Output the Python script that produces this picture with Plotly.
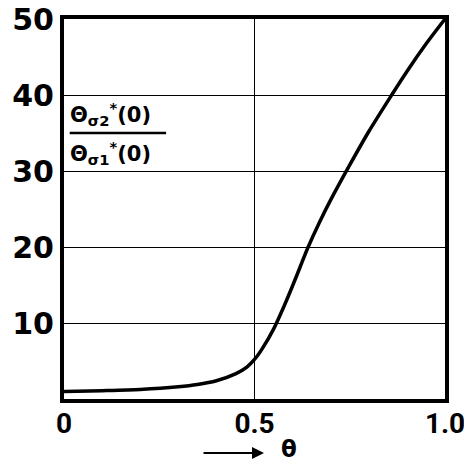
import plotly.graph_objects as go

theta = [0.0, 0.1, 0.2, 0.3, 0.35, 0.4, 0.45, 0.48, 0.5, 0.52, 0.55, 0.58, 0.6, 0.62, 0.64, 0.67, 0.7, 0.75, 0.8, 0.86, 0.9, 0.95, 1.0]
ratio = [1.0, 1.1, 1.25, 1.6, 1.9, 2.4, 3.3, 4.2, 5.2, 6.6, 9.2, 12.5, 14.9, 17.4, 19.9, 23.2, 26.2, 30.8, 35.2, 40.0, 43.1, 46.7, 50.0]

x_ticks = [0, 0.5, 1.0]
x_tick_text = ["0", "0.5", "1.0"]
y_ticks = [10, 20, 30, 40, 50]
y_tick_text = ["10", "20", "30", "40", "50"]

fig = go.Figure()
fig.add_trace(go.Scatter(x=theta, y=ratio, mode="lines",
                         line=dict(color="black", width=3.5, shape="spline", smoothing=0.8),
                         hoverinfo="skip", showlegend=False))

font = "DejaVu Sans"
xfont = "Roboto"
fig.update_layout(
    width=464, height=465,
    margin=dict(l=64, r=19, t=19, b=66),
    paper_bgcolor="white", plot_bgcolor="white",
    font=dict(family=font, color="black"),
    showlegend=False,
    xaxis=dict(range=[0, 1.0], tickvals=x_ticks, ticktext=[f"<b>{t}</b>" for t in x_tick_text],
               showline=True, linewidth=4, linecolor="black", mirror=True,
               showgrid=True, gridcolor="black", gridwidth=1.3,
               ticks="", zeroline=False, automargin=False,
               ticklabeloverflow="allow", ticklabelstandoff=-4,
               tickfont=dict(family=xfont, size=28, color="black")),
    yaxis=dict(range=[0, 50], tickvals=y_ticks, ticktext=[f"<b>{t}</b>" for t in y_tick_text],
               showline=True, linewidth=4, linecolor="black", mirror=True,
               showgrid=True, gridcolor="black", gridwidth=1.3,
               ticks="", zeroline=False, automargin=False,
               tickfont=dict(family=font, size=30, color="black")),
)

# ratio label (fraction)
fig.add_annotation(xref="paper", yref="paper", x=0.01, y=0.705, xanchor="left", yanchor="bottom",
                   text="<b>Θ<sub>σ2</sub><sup>*</sup>(0)</b>", showarrow=False,
                   font=dict(family=font, size=21, color="black"))
fig.add_annotation(xref="paper", yref="paper", x=0.01, y=0.692, xanchor="left", yanchor="top",
                   text="<b>Θ<sub>σ1</sub><sup>*</sup>(0)</b>", showarrow=False,
                   font=dict(family=font, size=21, color="black"))
fig.add_shape(type="line", xref="paper", yref="paper", x0=0.015, x1=0.268, y0=0.70, y1=0.70,
              line=dict(color="black", width=2.5))

# x-axis title: arrow and theta
fig.add_annotation(xref="paper", yref="paper", x=0.525, y=-0.142, ax=-62, ay=0,
                   text="", showarrow=True, arrowhead=2, arrowsize=1.2, arrowwidth=2, arrowcolor="black")
fig.add_annotation(xref="paper", yref="paper", x=0.565, y=-0.17, xanchor="left", yanchor="bottom",
                   text="<b>θ</b>", showarrow=False, font=dict(family=font, size=23, color="black"))

fig.write_html("out.html", config={"displayModeBar": False},
               post_script="document.body.style.margin='0';document.body.style.overflow='hidden';")
